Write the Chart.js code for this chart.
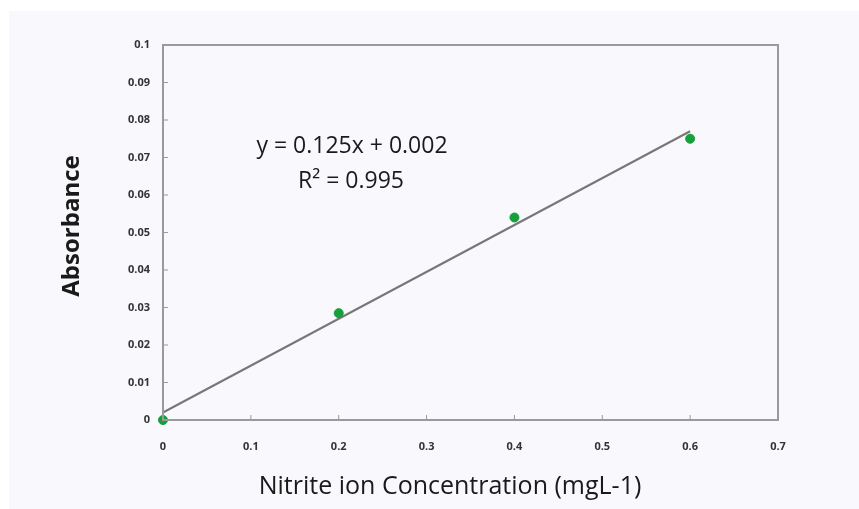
<!DOCTYPE html>
<html>
<head>
<meta charset="utf-8">
<script src="https://cdn.jsdelivr.net/npm/chart.js@4"></script>
<style>
  html, body { margin: 0; padding: 0; background: #ffffff; }
  #wrap { width: 859px; height: 509px; }
</style>
</head>
<body>
<div id="wrap"><canvas id="calib-chart" width="859" height="509"></canvas></div>
<script>
// Calibration data
const concentrations = [0, 0.2, 0.4, 0.6];
const absorbances = [0, 0.0285, 0.054, 0.075];
const fitX = [0, 0.6];
const fitY = [0.002, 0.077];
const xTicks = [0, 0.1, 0.2, 0.3, 0.4, 0.5, 0.6, 0.7];
const yTicks = [0, 0.01, 0.02, 0.03, 0.04, 0.05, 0.06, 0.07, 0.08, 0.09, 0.1];
const equationLines = ['y = 0.125x + 0.002', 'R² = 0.995'];
const xTitle = 'Nitrite ion Concentration (mgL-1)';
const yTitle = 'Absorbance';

const FONT = '"Open Sans", "DejaVu Sans", sans-serif';

// background panel, plot box, inward tick marks, titles and fit equation
const decorPlugin = {
  id: 'decor',
  beforeDraw(chart) {
    const ctx = chart.ctx;
    ctx.save();
    ctx.fillStyle = '#f8f8fd';
    ctx.fillRect(9, 11, chart.width - 9, chart.height - 11);
    ctx.restore();
  },
  afterDraw(chart) {
    const { ctx, chartArea: a, scales } = chart;
    ctx.save();
    ctx.strokeStyle = '#9a9a9a';
    ctx.lineWidth = 2;
    ctx.strokeRect(a.left, a.top, a.right - a.left, a.bottom - a.top);

    ctx.lineWidth = 1;
    xTicks.forEach(v => {
      const px = scales.x.getPixelForValue(v);
      ctx.beginPath();
      ctx.moveTo(px, a.bottom);
      ctx.lineTo(px, a.bottom - 5);
      ctx.stroke();
    });
    yTicks.forEach(v => {
      const py = scales.y.getPixelForValue(v);
      ctx.beginPath();
      ctx.moveTo(a.left, py);
      ctx.lineTo(a.left + 5, py);
      ctx.stroke();
    });

    ctx.fillStyle = '#1a1a1a';
    ctx.textAlign = 'center';
    ctx.textBaseline = 'middle';

    ctx.font = '23px ' + FONT;
    ctx.fillText(equationLines[0], 352, 146);
    ctx.fillText(equationLines[1], 351, 181);

    ctx.font = '25px ' + FONT;
    ctx.fillText(xTitle, 450, 487);

    ctx.translate(72, 226);
    ctx.rotate(-Math.PI / 2);
    ctx.font = 'bold 24px ' + FONT;
    ctx.fillText(yTitle, 0, 0);
    ctx.restore();
  }
};

new Chart(document.getElementById('calib-chart'), {
  type: 'scatter',
  data: {
    datasets: [
      {
        label: 'Linear fit',
        data: fitX.map((x, i) => ({ x, y: fitY[i] })),
        showLine: true,
        borderColor: '#777777',
        borderWidth: 2,
        pointRadius: 0,
        order: 2
      },
      {
        label: 'Absorbance',
        data: concentrations.map((x, i) => ({ x, y: absorbances[i] })),
        backgroundColor: '#16a03c',
        borderColor: '#16a03c',
        pointRadius: 4.5,
        clip: false,
        order: 1
      }
    ]
  },
  options: {
    responsive: false,
    animation: false,
    layout: { padding: { top: 45, right: 81, left: 0, bottom: 0 } },
    plugins: {
      legend: { display: false },
      tooltip: { enabled: false }
    },
    scales: {
      x: {
        type: 'linear',
        min: 0,
        max: 0.7,
        afterFit: (s) => { s.height = 89; },
        afterBuildTicks: (s) => { s.ticks = xTicks.map(v => ({ value: v })); },
        grid: { display: false, drawTicks: false },
        border: { display: false },
        ticks: {
          padding: 20,
          color: '#333',
          font: { family: FONT, size: 11, weight: 'bold' },
          maxRotation: 0,
          callback: (v) => String(+v.toFixed(2))
        }
      },
      y: {
        type: 'linear',
        min: 0,
        max: 0.1,
        afterFit: (s) => { s.width = 163; },
        afterBuildTicks: (s) => { s.ticks = yTicks.map(v => ({ value: v })); },
        grid: { display: false, drawTicks: false },
        border: { display: false },
        ticks: {
          padding: 13,
          color: '#333',
          font: { family: FONT, size: 11, weight: 'bold' },
          callback: (v) => String(+v.toFixed(2))
        }
      }
    }
  },
  plugins: [decorPlugin]
});
</script>
</body>
</html>
